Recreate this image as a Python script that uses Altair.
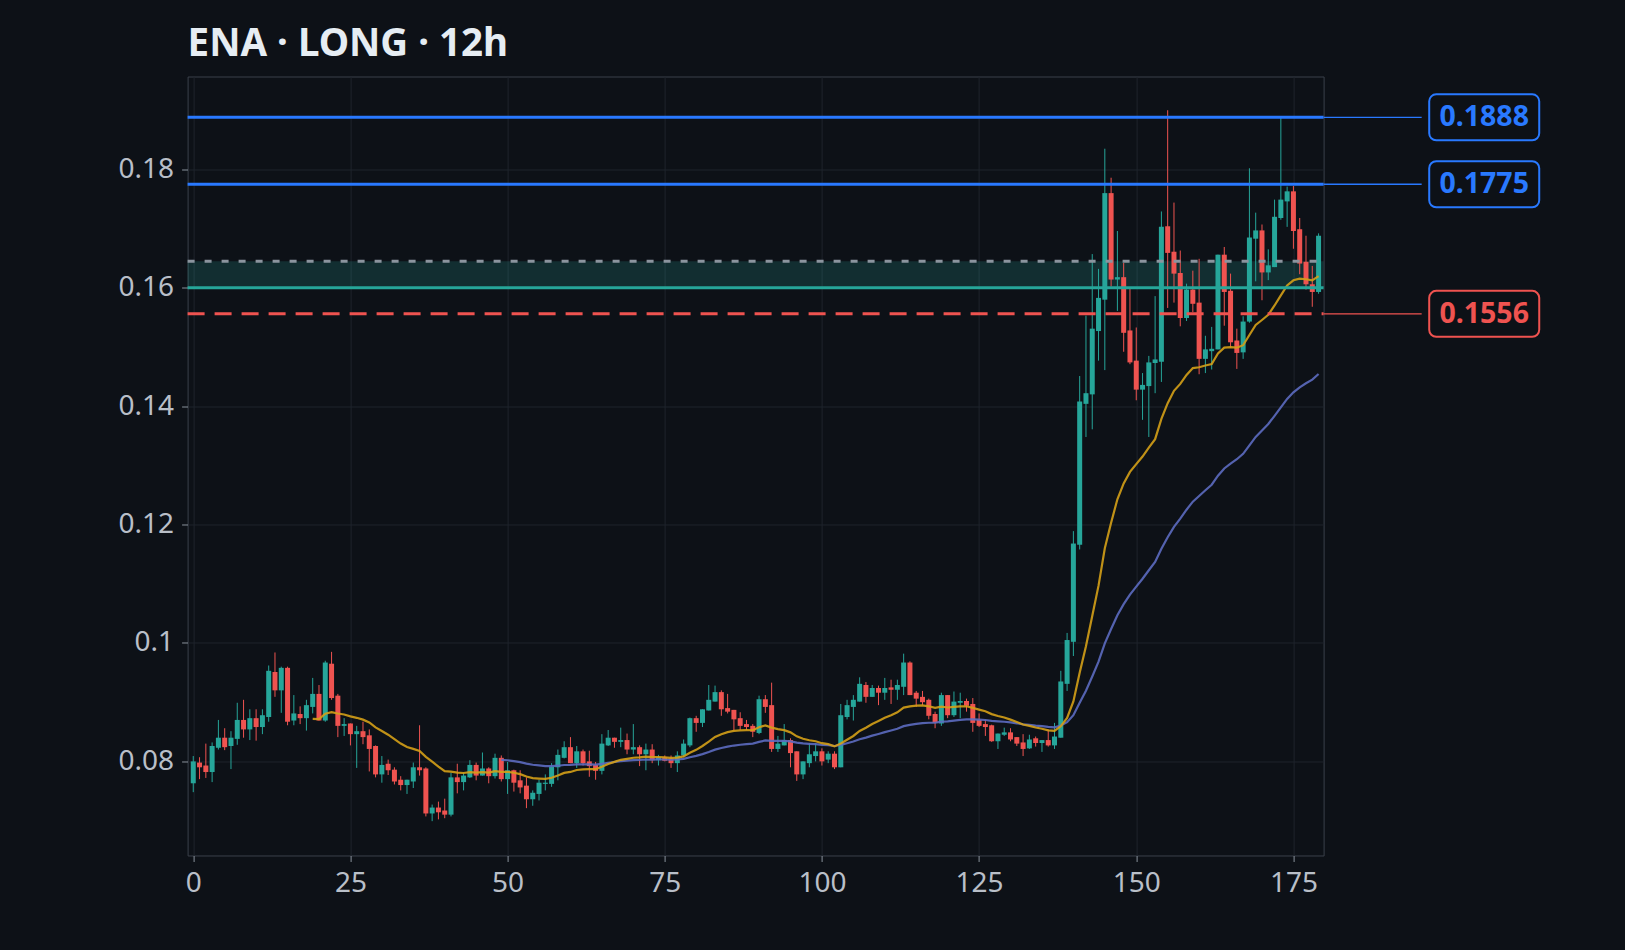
import altair as alt
import pandas as pd
import numpy as np
import jinja2

# ---------------- data ----------------
opens = [0.0763,0.0798,0.0793,0.0782,0.0823,0.0840,0.0826,0.0838,0.0870,0.0854,
         0.0873,0.0858,0.0875,0.0951,0.0920,0.0958,0.0869,0.0880,0.0873,0.0892,
         0.0914,0.0869,0.0965,0.0911,0.0860,0.0864,0.0846,0.0851,0.0844,0.0826,
         0.0778,0.0796,0.0786,0.0769,0.0760,0.0766,0.0790,0.0788,0.0712,0.0722,
         0.0717,0.0710,0.0773,0.0765,0.0773,0.0794,0.0776,0.0788,0.0775,0.0806,
         0.0770,0.0785,0.0768,0.0759,0.0736,0.0745,0.0762,0.0762,0.0790,0.0806,
         0.0824,0.0797,0.0817,0.0800,0.0794,0.0784,0.0827,0.0840,0.0833,0.0836,
         0.0820,0.0824,0.0812,0.0820,0.0802,0.0807,0.0805,0.0797,0.0810,0.0827,
         0.0873,0.0865,0.0886,0.0901,0.0917,0.0890,0.0887,0.0873,0.0863,0.0860,
         0.0848,0.0905,0.0895,0.0821,0.0827,0.0836,0.0817,0.0778,0.0797,0.0809,
         0.0817,0.0803,0.0813,0.0790,0.0875,0.0892,0.0901,0.0929,0.0909,0.0924,
         0.0916,0.0925,0.0921,0.0926,0.0967,0.0916,0.0909,0.0904,0.0880,0.0864,
         0.0912,0.0878,0.0899,0.0902,0.0897,0.0870,0.0863,0.0861,0.0834,0.0845,
         0.0849,0.0841,0.0832,0.0822,0.0839,0.0831,0.0836,0.0827,0.0840,0.0931,
         0.1002,0.1166,0.1404,0.1420,0.1527,0.1580,0.1760,0.1614,0.1618,0.1528,
         0.1477,0.1428,0.1434,0.1473,0.1475,0.1704,0.1661,0.1625,0.1549,0.1597,
         0.1575,0.1480,0.1493,0.1496,0.1656,0.1595,0.1511,0.1491,0.1543,0.1683,
         0.1697,0.1626,0.1635,0.1718,0.1746,0.1763,0.1699,0.1644,0.1606,0.1593]
highs = [0.0809,0.0807,0.0830,0.0832,0.0870,0.0856,0.0851,0.0899,0.0904,0.0888,
         0.0888,0.0888,0.0962,0.0984,0.0960,0.0960,0.0912,0.0893,0.0904,0.0941,
         0.0929,0.0970,0.0985,0.0914,0.0873,0.0864,0.0860,0.0867,0.0854,0.0827,
         0.0809,0.0803,0.0790,0.0775,0.0769,0.0798,0.0861,0.0790,0.0727,0.0732,
         0.0737,0.0781,0.0796,0.0781,0.0802,0.0798,0.0815,0.0790,0.0813,0.0810,
         0.0799,0.0786,0.0785,0.0773,0.0751,0.0769,0.0778,0.0797,0.0820,0.0834,
         0.0841,0.0826,0.0820,0.0818,0.0799,0.0846,0.0853,0.0840,0.0857,0.0847,
         0.0863,0.0827,0.0830,0.0829,0.0811,0.0810,0.0810,0.0817,0.0837,0.0874,
         0.0877,0.0888,0.0929,0.0928,0.0920,0.0914,0.0887,0.0883,0.0870,0.0863,
         0.0911,0.0912,0.0933,0.0843,0.0863,0.0839,0.0817,0.0800,0.0831,0.0830,
         0.0822,0.0817,0.0817,0.0897,0.0904,0.0912,0.0942,0.0934,0.0929,0.0928,
         0.0941,0.0938,0.0938,0.0982,0.0969,0.0919,0.0919,0.0906,0.0884,0.0916,
         0.0912,0.0918,0.0916,0.0906,0.0907,0.0881,0.0870,0.0862,0.0847,0.0857,
         0.0856,0.0841,0.0846,0.0845,0.0842,0.0836,0.0854,0.0865,0.0953,0.1017,
         0.1189,0.1451,0.1553,0.1657,0.1632,0.1835,0.1786,0.1696,0.1642,0.1598,
         0.1533,0.1456,0.1485,0.1586,0.1729,0.1900,0.1744,0.1663,0.1607,0.1629,
         0.1649,0.1519,0.1534,0.1656,0.1669,0.1624,0.1531,0.1552,0.1802,0.1727,
         0.1707,0.1665,0.1749,0.1887,0.1771,0.1772,0.1718,0.1688,0.1637,0.1692]
lows = [0.0748,0.0770,0.0772,0.0765,0.0820,0.0819,0.0787,0.0828,0.0840,0.0836,
        0.0835,0.0846,0.0867,0.0909,0.0882,0.0861,0.0861,0.0863,0.0852,0.0881,
        0.0869,0.0867,0.0904,0.0841,0.0843,0.0827,0.0789,0.0829,0.0783,0.0773,
        0.0764,0.0777,0.0761,0.0751,0.0745,0.0755,0.0776,0.0707,0.0699,0.0702,
        0.0704,0.0707,0.0746,0.0751,0.0772,0.0768,0.0776,0.0763,0.0771,0.0766,
        0.0745,0.0749,0.0746,0.0721,0.0725,0.0734,0.0751,0.0757,0.0768,0.0805,
        0.0797,0.0789,0.0793,0.0774,0.0769,0.0778,0.0826,0.0823,0.0824,0.0812,
        0.0812,0.0792,0.0785,0.0797,0.0793,0.0800,0.0789,0.0782,0.0807,0.0824,
        0.0850,0.0858,0.0886,0.0901,0.0877,0.0881,0.0852,0.0853,0.0853,0.0841,
        0.0846,0.0882,0.0816,0.0816,0.0827,0.0790,0.0767,0.0770,0.0790,0.0800,
        0.0793,0.0797,0.0787,0.0790,0.0871,0.0869,0.0901,0.0899,0.0909,0.0895,
        0.0904,0.0897,0.0904,0.0912,0.0912,0.0892,0.0895,0.0871,0.0856,0.0860,
        0.0873,0.0875,0.0873,0.0884,0.0850,0.0858,0.0843,0.0833,0.0821,0.0843,
        0.0834,0.0826,0.0809,0.0821,0.0825,0.0816,0.0825,0.0821,0.0840,0.0919,
        0.0978,0.1158,0.1348,0.1361,0.1477,0.1461,0.1602,0.1561,0.1492,0.1471,
        0.1410,0.1377,0.1348,0.1422,0.1441,0.1566,0.1575,0.1535,0.1544,0.1559,
        0.1454,0.1456,0.1462,0.1496,0.1536,0.1499,0.1463,0.1480,0.1541,0.1611,
        0.1579,0.1613,0.1635,0.1715,0.1703,0.1666,0.1623,0.1597,0.1568,0.1590]
closes = [0.0800,0.0790,0.0782,0.0826,0.0840,0.0824,0.0840,0.0870,0.0854,0.0873,
          0.0858,0.0878,0.0953,0.0920,0.0958,0.0867,0.0881,0.0873,0.0895,0.0914,
          0.0869,0.0967,0.0907,0.0860,0.0863,0.0846,0.0851,0.0841,0.0821,0.0778,
          0.0794,0.0785,0.0766,0.0760,0.0769,0.0790,0.0785,0.0712,0.0722,0.0714,
          0.0710,0.0773,0.0765,0.0776,0.0794,0.0776,0.0788,0.0775,0.0806,0.0770,
          0.0785,0.0764,0.0756,0.0736,0.0747,0.0764,0.0764,0.0791,0.0811,0.0824,
          0.0797,0.0817,0.0797,0.0792,0.0784,0.0830,0.0840,0.0833,0.0836,0.0820,
          0.0824,0.0812,0.0820,0.0802,0.0807,0.0801,0.0797,0.0810,0.0830,0.0873,
          0.0865,0.0888,0.0904,0.0917,0.0888,0.0884,0.0871,0.0860,0.0858,0.0850,
          0.0905,0.0892,0.0821,0.0830,0.0836,0.0814,0.0778,0.0800,0.0812,0.0817,
          0.0800,0.0813,0.0790,0.0878,0.0895,0.0904,0.0931,0.0909,0.0924,0.0916,
          0.0924,0.0921,0.0929,0.0967,0.0912,0.0906,0.0900,0.0877,0.0865,0.0912,
          0.0878,0.0901,0.0902,0.0894,0.0865,0.0860,0.0858,0.0834,0.0847,0.0849,
          0.0837,0.0830,0.0821,0.0837,0.0831,0.0836,0.0827,0.0842,0.0935,0.1005,
          0.1168,0.1408,0.1422,0.1531,0.1583,0.1760,0.1614,0.1618,0.1524,0.1474,
          0.1428,0.1436,0.1474,0.1479,0.1703,0.1659,0.1624,0.1549,0.1597,0.1573,
          0.1480,0.1496,0.1497,0.1656,0.1593,0.1508,0.1490,0.1543,0.1685,0.1697,
          0.1626,0.1638,0.1720,0.1749,0.1763,0.1696,0.1641,0.1606,0.1593,0.1688]

x_tick_values = [0, 25, 50, 75, 100, 125, 150, 175]
y_tick_values = [0.08, 0.10, 0.12, 0.14, 0.16, 0.18]

target_levels = [0.1888, 0.1775]
target_labels = ["0.1888", "0.1775"]
stop_level = 0.1556
stop_label = "0.1556"
entry_low = 0.1600
entry_high = 0.1645

title_text = "ENA · LONG · 12h"

# ---------------- styles ----------------
BG = "#0d1117"
UP = "#26a69a"
DOWN = "#ef5350"
BLUE = "#2979ff"
GRAY_DASH = "#8b949e"
EMA_FAST = "#d4a017"
EMA_SLOW = "#5c6bc0"
FONT = "Noto Sans"

X_DOMAIN = [-0.9, 179.8]
Y_DOMAIN = [0.0641, 0.1957]

# annotation columns beyond the right edge (data units on the x scale)
CONN_END = 195.4
BOX_L = 196.6
BOX_R = 214.1
BOX_C = 205.35

df = pd.DataFrame({"i": np.arange(len(closes)), "open": opens, "high": highs,
                   "low": lows, "close": closes})
df["dir"] = np.where(df["close"] >= df["open"], "up", "down")

ema20 = df["close"].ewm(span=20, adjust=False).mean()
ema50 = df["close"].ewm(span=50, adjust=False).mean()
ema_fast_df = pd.DataFrame({"i": df["i"], "v": ema20}).iloc[19:]
ema_slow_df = pd.DataFrame({"i": df["i"], "v": ema50}).iloc[49:]

xscale = alt.Scale(domain=X_DOMAIN, nice=False, zero=False, padding=0)
yscale = alt.Scale(domain=Y_DOMAIN, nice=False, zero=False, padding=0)
xaxis = alt.Axis(values=x_tick_values, title=None, grid=True, domain=False)
yaxis = alt.Axis(values=y_tick_values, title=None, grid=True, domain=False, format="~g")

def X(field):
    return alt.X(field, scale=xscale, axis=xaxis)

def Y(field):
    return alt.Y(field, scale=yscale, axis=yaxis)

color_scale = alt.Scale(domain=["up", "down"], range=[UP, DOWN])

base = alt.Chart(df)

zone_df = pd.DataFrame({"x0": [X_DOMAIN[0]], "x1": [X_DOMAIN[1]],
                        "y0": [entry_low], "y1": [entry_high]})
zone = alt.Chart(zone_df).mark_rect(color=UP, opacity=0.2).encode(
    x=X("x0:Q"), x2="x1:Q", y=Y("y0:Q"), y2="y1:Q")

wicks = base.mark_rule(strokeWidth=1).encode(
    x=X("i:Q"), y=Y("low:Q"), y2="high:Q",
    color=alt.Color("dir:N", scale=color_scale, legend=None))
bodies = base.mark_bar(size=5).encode(
    x=X("i:Q"), y=Y("open:Q"), y2="close:Q",
    color=alt.Color("dir:N", scale=color_scale, legend=None))

ema_fast = alt.Chart(ema_fast_df).mark_line(color=EMA_FAST, strokeWidth=2.2, opacity=0.9).encode(
    x=X("i:Q"), y=Y("v:Q"))
ema_slow = alt.Chart(ema_slow_df).mark_line(color=EMA_SLOW, strokeWidth=2.2, opacity=0.9).encode(
    x=X("i:Q"), y=Y("v:Q"))

tp_df = pd.DataFrame({"y": target_levels, "x0": X_DOMAIN[0], "x1": X_DOMAIN[1],
                      "c0": X_DOMAIN[1], "c1": CONN_END, "b0": BOX_L, "b1": BOX_R,
                      "bc": BOX_C, "label": target_labels})
stop_df = pd.DataFrame({"y": [stop_level], "x0": X_DOMAIN[0], "x1": X_DOMAIN[1],
                        "c0": X_DOMAIN[1], "c1": CONN_END, "b0": BOX_L, "b1": BOX_R,
                        "bc": BOX_C, "label": [stop_label]})
entry_df = pd.DataFrame({"lo": [entry_low], "hi": [entry_high],
                         "x0": X_DOMAIN[0], "x1": X_DOMAIN[1]})

entry_hi_line = alt.Chart(entry_df).mark_rule(color=GRAY_DASH, strokeWidth=3,
                                              strokeDash=[7, 10]).encode(
    x=X("x0:Q"), x2="x1:Q", y=Y("hi:Q"))
entry_lo_line = alt.Chart(entry_df).mark_rule(color=UP, strokeWidth=3).encode(
    x=X("x0:Q"), x2="x1:Q", y=Y("lo:Q"))

tp_lines = alt.Chart(tp_df).mark_rule(color=BLUE, strokeWidth=3).encode(
    x=X("x0:Q"), x2="x1:Q", y=Y("y:Q"))
tp_conn = alt.Chart(tp_df).mark_rule(color=BLUE, strokeWidth=1.4).encode(
    x=X("c0:Q"), x2="c1:Q", y=Y("y:Q"))
tp_box = alt.Chart(tp_df).mark_rect(height=46, cornerRadius=7, fill=BG, stroke=BLUE,
                                    strokeWidth=2).encode(
    x=X("b0:Q"), x2="b1:Q", y=Y("y:Q"))
tp_text = alt.Chart(tp_df).mark_text(font=FONT, fontSize=28.5, fontWeight="bold",
                                     color=BLUE, align="center", baseline="middle").encode(
    x=X("bc:Q"), y=Y("y:Q"), text="label:N")

stop_line = alt.Chart(stop_df).mark_rule(color=DOWN, strokeWidth=3,
                                         strokeDash=[17, 10]).encode(
    x=X("x0:Q"), x2="x1:Q", y=Y("y:Q"))
stop_conn = alt.Chart(stop_df).mark_rule(color=DOWN, strokeWidth=1.4).encode(
    x=X("c0:Q"), x2="c1:Q", y=Y("y:Q"))
stop_box = alt.Chart(stop_df).mark_rect(height=46, cornerRadius=7, fill=BG, stroke=DOWN,
                                        strokeWidth=2).encode(
    x=X("b0:Q"), x2="b1:Q", y=Y("y:Q"))
stop_text = alt.Chart(stop_df).mark_text(font=FONT, fontSize=28.5, fontWeight="bold",
                                         color=DOWN, align="center", baseline="middle").encode(
    x=X("bc:Q"), y=Y("y:Q"), text="label:N")

chart = alt.layer(
    zone, wicks, bodies, ema_slow, ema_fast,
    entry_hi_line, entry_lo_line, stop_line, tp_lines,
    tp_conn, stop_conn, tp_box, stop_box, tp_text, stop_text,
).properties(
    width=1136, height=779,
    title=alt.TitleParams(title_text, anchor="start", frame="group", font=FONT,
                          fontSize=38.5, fontWeight="bold", color="#e6edf3", offset=12),
    autosize=alt.AutoSizeParams(type="none"),
    padding={"left": 179.6, "top": 68.5, "right": 290, "bottom": 60},
).configure(
    background=BG,
).configure_view(
    stroke="#3b404a", strokeWidth=1, fill=BG,
).configure_axis(
    labelFont=FONT, labelFontSize=28, labelColor="#b9bfc8",
    tickColor="#8b949e", tickSize=6, labelPadding=8,
    gridColor="#1f242c", gridWidth=1,
)

# page template: same CDN scripts as the standard one, with a dark page background
PAGE = jinja2.Template("""<!DOCTYPE html>
<html>
<head>
  <style>
    html, body { background: #0d1117; }
    #{{ output_div }}.vega-embed { width: 100%; display: flex; }
  </style>
  <script type="text/javascript" src="{{ base_url }}/vega@{{ vega_version }}"></script>
  <script type="text/javascript" src="{{ base_url }}/vega-lite@{{ vegalite_version }}"></script>
  <script type="text/javascript" src="{{ base_url }}/vega-embed@{{ vegaembed_version }}"></script>
</head>
<body>
  <div id="{{ output_div }}"></div>
  <script>
    (function(vegaEmbed) {
      var spec = {{ spec }};
      var embedOpt = {{ embed_options }};
      vegaEmbed("#{{ output_div }}", spec, embedOpt);
    })(vegaEmbed);
  </script>
</body>
</html>
""")

chart.save("out.html", embed_options={"renderer": "svg", "actions": False}, template=PAGE)
